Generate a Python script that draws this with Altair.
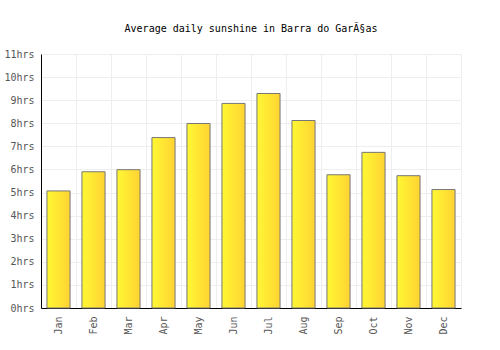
import altair as alt
import pandas as pd

months = ["Jan", "Feb", "Mar", "Apr", "May", "Jun", "Jul", "Aug", "Sep", "Oct", "Nov", "Dec"]
sunshine = [5.07, 5.9, 5.99, 7.38, 7.99, 8.86, 9.29, 8.12, 5.77, 6.74, 5.73, 5.13]
y_ticks = list(range(0, 12))

df = pd.DataFrame({"month": months, "hours": sunshine})

font = "DejaVu Sans Mono"

chart = alt.Chart(df).mark_bar(
    width=alt.RelativeBandSize(0.66),
    fill=alt.Gradient(
        gradient="linear",
        stops=[alt.GradientStop(color="#FFF833", offset=0),
               alt.GradientStop(color="#FFD333", offset=1)],
        x1=0, x2=1, y1=0, y2=0,
    ),
    stroke="#777777",
    strokeWidth=1,
).encode(
    x=alt.X("month:N", sort=months, title=None,
            scale=alt.Scale(paddingInner=0, paddingOuter=0),
            axis=alt.Axis(labelAngle=270, tickBand="extent", ticks=False,
                          labelPadding=8, grid=True)),
    y=alt.Y("hours:Q", title=None,
            scale=alt.Scale(domain=[0, 11], nice=False),
            axis=alt.Axis(values=y_ticks, labelExpr="datum.value + 'hrs'",
                          ticks=False, labelPadding=7, grid=True)),
).properties(
    width=420,
    height=254,
    title=alt.TitleParams("Average daily sunshine in Barra do GarÃ§as",
                          font=font, fontSize=10, fontWeight="normal",
                          color="#000000", offset=15),
    autosize=alt.AutoSizeParams(type="none"),
    padding={"left": 41, "top": 54, "right": 39, "bottom": 42},
).configure_axis(
    labelFont=font,
    labelFontSize=10,
    labelColor="#555555",
    domainColor="#000000",
    domainWidth=1,
    gridColor="#EEEEEE",
    gridWidth=1,
).configure_view(
    stroke=None,
)

chart.save("out.html", embed_options={"renderer": "svg", "actions": False})
